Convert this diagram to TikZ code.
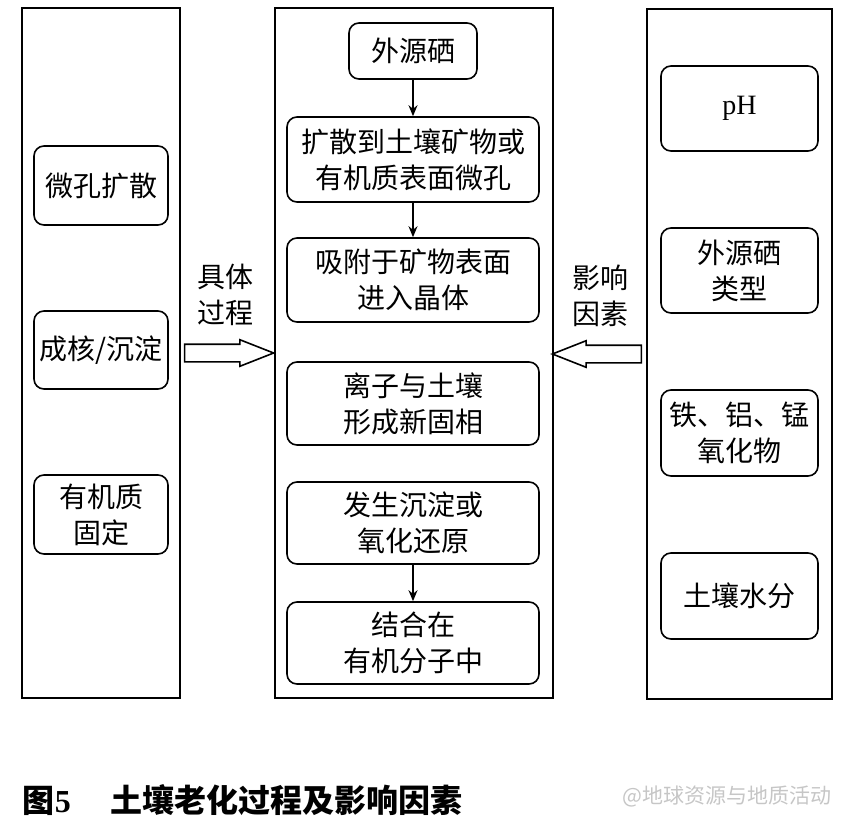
\documentclass[tikz,border=0pt]{standalone}
\usepackage{fontspec}
\usepackage{tikz}
\setmainfont{Liberation Serif}
\newfontfamily\cjk{Noto Sans CJK SC}
\usetikzlibrary{arrows.meta, shapes.arrows, calc}

\begin{document}
\begin{tikzpicture}[x=1pt, y=-1pt, >={Stealth[length=11pt, width=9pt]}, line width=1.6pt,
  col/.style={draw, minimum width=#1, minimum height=690, inner sep=0},
  box/.style={draw, rounded corners=10, align=center, inner sep=0,
    font=\cjk\fontsize{28}{36}\selectfont},
  label/.style={align=center, inner sep=0, font=\cjk\fontsize{28}{36}\selectfont},
  hollow/.style={draw, single arrow, inner xsep=0, inner ysep=8, minimum width=0,
    single arrow head extend=4.5, single arrow tip angle=43, minimum height=89}]

\useasboundingbox (0,0) rectangle (846,825);

% three columns
\node[col=158] (leftcol) at (101,353) {};
\node[col=278] (midcol) at (414,353) {};
\node[col=185] (rightcol) at (739.5,354) {};

% left column: processes
\node[box, minimum width=134, minimum height=79] (micro) at (101,185.5) {微孔扩散};
\node[box, minimum width=134, minimum height=78] (nucl) at (101,350) {成核/沉淀};
\node[box, minimum width=134, minimum height=79] (fix) at (101,514.5) {有机质\\固定};

% middle column: steps
\node[box, minimum width=128, minimum height=56] (src) at (413,51) {外源硒};
\node[box, minimum width=252, minimum height=85] (diffuse) at (413,159.5) {扩散到土壤矿物或\\有机质表面微孔};
\node[box, minimum width=252, minimum height=84] (adsorb) at (413,280) {吸附于矿物表面\\进入晶体};
\node[box, minimum width=252, minimum height=83] (ionic) at (413,403.5) {离子与土壤\\形成新固相};
\node[box, minimum width=252, minimum height=82] (precip) at (413,523) {发生沉淀或\\氧化还原};
\node[box, minimum width=252, minimum height=82] (organic) at (413,643) {结合在\\有机分子中};

\draw[->] (src) -- (diffuse);
\draw[->] (diffuse) -- (adsorb);
\draw[->] (precip) -- (organic);

% right column: factors
\node[box, minimum width=157, minimum height=85, font=\rmfamily\fontsize{28}{36}\selectfont] (ph) at (739.5,108.5) {pH};
\node[box, minimum width=157, minimum height=85] (setype) at (739.5,270.5) {外源硒\\类型};
\node[box, minimum width=157, minimum height=86] (oxide) at (739.5,433) {铁、铝、锰\\氧化物};
\node[box, minimum width=157, minimum height=86] (water) at (739.5,596) {土壤水分};

% hollow arrows between columns
\node[hollow, anchor=tail] (arrL) at ([xshift=3]leftcol.east) {};
\node[hollow, anchor=tail, shape border rotate=180] (arrR) at ([xshift=-4]rightcol.west) {};
\node[label] (proc) at (225,295) {具体\\过程};
\node[label] (fact) at (600,296) {影响\\因素};

% caption
\node[anchor=west, inner sep=0, font=\fontsize{32}{32}\selectfont\bfseries] (cap) at (22,800)
  {{\cjk 图}5\hspace{40pt}{\cjk 土壤老化过程及影响因素}};
\node[anchor=east, inner sep=0, text=gray!45, font=\cjk\fontsize{21}{21}\selectfont] (mark) at (832,796) {@地球资源与地质活动};

\end{tikzpicture}
\end{document}
